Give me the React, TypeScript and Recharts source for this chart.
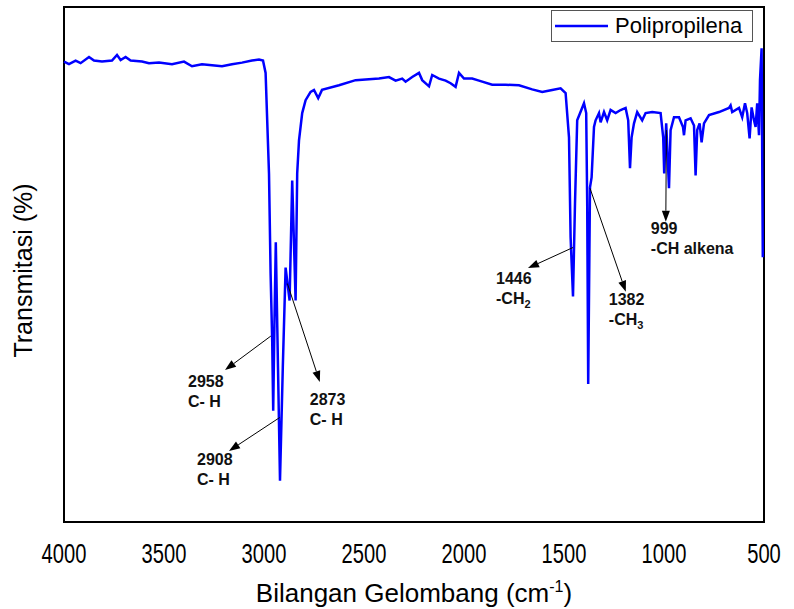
import React from 'react';
import { LineChart, Line, XAxis, YAxis, ReferenceArea, ReferenceLine, Legend, Label } from 'recharts';

// FTIR spectrum of polypropylene
const wavenumbers = [
  4000, 3975, 3942, 3917, 3875, 3850, 3810, 3760, 3735, 3717, 3692, 3667, 3610, 3575, 3525, 3460,
  3400, 3360, 3310, 3260, 3210, 3160, 3110, 3060, 3025, 3005, 2992, 2975, 2967, 2959, 2954, 2948,
  2941, 2930, 2920, 2906, 2892, 2872, 2859, 2842, 2834, 2825, 2809, 2792, 2767, 2750, 2729, 2710,
  2625, 2542, 2425, 2375, 2342, 2309, 2292, 2259, 2225, 2209, 2175, 2159, 2125, 2092, 2067, 2042,
  2025, 2000, 1959, 1925, 1859, 1792, 1725, 1659, 1609, 1559, 1517, 1492, 1475, 1467, 1455, 1445,
  1434, 1400, 1389, 1384, 1379, 1370, 1362, 1350, 1342, 1325, 1317, 1300, 1284, 1267, 1242, 1217,
  1192, 1179, 1170, 1162, 1150, 1134, 1109, 1092, 1059, 1017, 1004, 999, 989, 975, 967, 950,
  925, 905, 900, 892, 867, 850, 842, 834, 822, 812, 800, 775, 725, 675, 667, 659,
  625, 609, 595, 584, 572, 562, 550, 542, 534, 525, 520, 512, 506,
];

const transmittance = [
  89.4, 88.9, 89.6, 89.1, 90.3, 89.6, 89.4, 89.6, 90.7, 89.7, 90.3, 89.6, 89.4, 89.1, 89.2, 88.9,
  89.4, 88.5, 88.9, 88.7, 88.5, 88.9, 89.2, 89.6, 89.8, 89.6, 87.2, 67.7, 48.2, 35.2, 21.6, 38.0,
  54.3, 30.0, 8.0, 30.0, 49.4, 43.0, 66.3, 43.0, 67.7, 74.1, 79.4, 81.9, 83.5, 83.9, 82.3, 83.9,
  84.8, 85.8, 86.1, 86.4, 85.7, 86.1, 85.5, 86.4, 87.2, 85.8, 84.6, 86.8, 86.1, 85.7, 85.2, 84.5,
  87.2, 86.1, 86.1, 85.7, 84.9, 84.9, 84.8, 84.0, 83.5, 83.9, 84.2, 83.3, 74.7, 55.3, 43.8, 61.9,
  78.0, 81.3, 79.4, 61.9, 26.8, 65.0, 66.9, 76.7, 78.0, 79.4, 77.6, 79.6, 78.0, 80.0, 79.4, 80.0,
  80.4, 78.0, 68.7, 74.7, 77.4, 79.6, 78.0, 79.4, 79.6, 79.4, 74.7, 67.7, 77.4, 64.8, 76.1, 78.6,
  78.6, 76.7, 75.1, 78.0, 78.4, 77.0, 67.3, 76.1, 77.4, 73.7, 77.4, 79.0, 79.6, 80.4, 80.9, 79.6,
  80.4, 78.6, 81.3, 79.4, 74.5, 80.5, 78.0, 76.7, 81.3, 75.1, 85.8, 92.0, 51.4,
];

const xTicks = [4000, 3500, 3000, 2500, 2000, 1500, 1000, 500];

// peak labels: arrow runs from a point near the band to the text
const peakNames = ['2958', '2908', '2873', '1446', '1382', '999'];
const peakGroups = ['C- H', 'C- H', 'C- H', '-CH', '-CH', '-CH alkena'];
const peakSubs = ['', '', '', '2', '3', ''];
const arrowFrom = [[2966, 36.1], [2921, 20.3], [2883, 46.3], [1455, 53.3], [1370, 64.8], [988, 76.1]];
const arrowTo = [[3195, 29.5], [3175, 13.8], [2721, 27.2], [1680, 49.3], [1191, 44.7], [991, 58.3]];

const textOffset = [[-37, 17], [-32, 14], [-10, 23], [-32, 16], [-17, 13], [-15, 12]];

const data = wavenumbers.map((wn, i) => ({ wn, t: transmittance[i] }));

const FONT = '"Liberation Sans", Arial, sans-serif';

const XTick = ({ x, y, payload }: any) => {
  const s = String(payload.value);
  return (
    <text
      x={x}
      y={y + 33}
      textAnchor="middle"
      fontSize={28}
      fontFamily={FONT}
      fill="#000"
      textLength={s.length * 11.2}
      lengthAdjust="spacingAndGlyphs"
    >
      {s}
    </text>
  );
};

function makeArrow(i: number) {
  return (p: any) => {
    const { x1, y1, x2, y2 } = p;
    const ang = Math.atan2(y2 - y1, x2 - x1);
    const len = 11;
    const half = 4;
    const bx = x2 - len * Math.cos(ang);
    const by = y2 - len * Math.sin(ang);
    const pts = [
      [x2, y2],
      [bx - half * Math.sin(ang), by + half * Math.cos(ang)],
      [bx + half * Math.sin(ang), by - half * Math.cos(ang)],
    ]
      .map((q) => q.join(','))
      .join(' ');
    const tx = x2 + textOffset[i][0];
    const ty = y2 + textOffset[i][1];
    return (
      <g>
        <line x1={x1} y1={y1} x2={bx} y2={by} stroke="#000" strokeWidth={1} />
        <polygon points={pts} fill="#000" />
        <text x={tx} y={ty} fontSize={16} fontWeight="bold" fontFamily={FONT} fill="#111">
          {peakNames[i]}
        </text>
        <text x={tx} y={ty + 20} fontSize={16} fontWeight="bold" fontFamily={FONT} fill="#111">
          {peakGroups[i]}
          {peakSubs[i] && (
            <tspan fontSize={11} dy={4}>
              {peakSubs[i]}
            </tspan>
          )}
        </text>
      </g>
    );
  };
}

const LegendBox = () => (
  <div
    style={{
      width: 202,
      height: 32,
      boxSizing: 'border-box',
      border: '1px solid #555',
      background: '#fff',
      display: 'flex',
      alignItems: 'center',
      fontFamily: FONT,
    }}
  >
    <svg width={58} height={10}>
      <line x1={3} y1={5} x2={56} y2={5} stroke="#0000ff" strokeWidth={2.5} />
    </svg>
    <span style={{ fontSize: 22, marginLeft: 5, lineHeight: 1, color: '#000' }}>Polipropilena</span>
  </div>
);

const YTitle = ({ viewBox }: any) => {
  const cy = viewBox.y + viewBox.height / 2 + 6;
  return (
    <text
      x={32}
      y={cy}
      transform={`rotate(-90, 32, ${cy})`}
      textAnchor="middle"
      fontSize={25}
      fontFamily={FONT}
      fill="#000"
    >
      Transmitasi (%)
    </text>
  );
};

export default function App() {
  return (
    <div style={{ position: 'absolute', left: 0, top: 0, width: 794, height: 609, background: '#fff' }}>
      <LineChart width={794} height={609} data={data} margin={{ top: 7, right: 30, bottom: 0, left: 0 }}>
        <XAxis
          dataKey="wn"
          type="number"
          domain={[500, 4000]}
          reversed
          ticks={xTicks}
          tick={<XTick />}
          tickLine={false}
          axisLine={false}
          height={87}
          interval={0}
        >
          <Label
            content={({ viewBox }: any) => (
              <text
                x={viewBox.x + viewBox.width / 2}
                y={viewBox.y + viewBox.height - 7}
                textAnchor="middle"
                fontSize={26}
                fontFamily={FONT}
                fill="#000"
              >
                Bilangan Gelombang (cm
                <tspan fontSize={16} dy={-10}>
                  -1
                </tspan>
                <tspan dy={10}>)</tspan>
              </text>
            )}
          />
        </XAxis>
        <YAxis domain={[0, 100]} width={64} tick={false} tickLine={false} axisLine={false}>
          <Label content={<YTitle />} />
        </YAxis>
        <ReferenceArea x1={4000} x2={500} y1={0} y2={100} fill="none" stroke="#000" strokeWidth={2} />
        <Line
          dataKey="t"
          name="Polipropilena"
          type="linear"
          stroke="#0000ff"
          strokeWidth={2.5}
          dot={false}
          isAnimationActive={false}
        />
        {peakNames.map((name, i) => (
          <ReferenceLine
            key={name}
            segment={[
              { x: arrowFrom[i][0], y: arrowFrom[i][1] },
              { x: arrowTo[i][0], y: arrowTo[i][1] },
            ]}
            shape={makeArrow(i)}
          />
        ))}
        <Legend
          align="center"
          verticalAlign="middle"
          layout="horizontal"
          wrapperStyle={{ top: 10, left: 551, width: 202, right: 'auto', bottom: 'auto' }}
          content={() => <LegendBox />}
        />
      </LineChart>
    </div>
  );
}
